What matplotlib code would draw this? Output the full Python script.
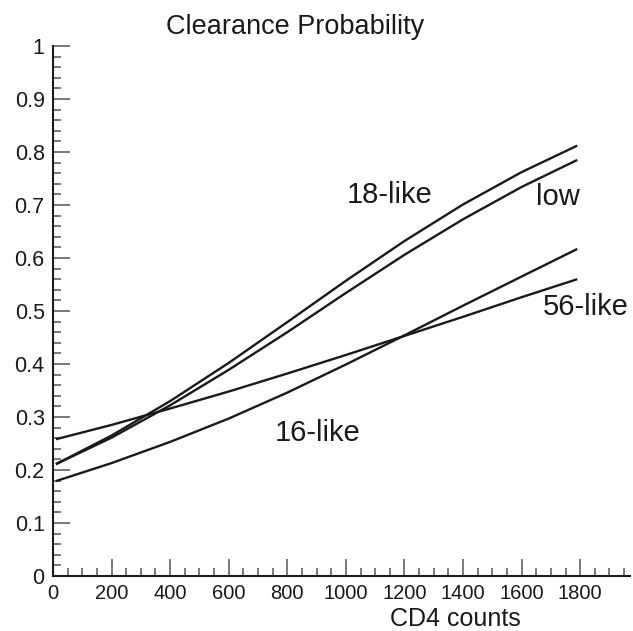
import numpy as np
import matplotlib
matplotlib.use("Agg")
import matplotlib.pyplot as plt
from matplotlib.ticker import MultipleLocator

plt.rcParams['font.family'] = ['Liberation Sans', 'DejaVu Sans']

# CD4 counts and clearance probability
cd4 = [10, 200, 400, 600, 800, 1000, 1200, 1400, 1600, 1790]
like18 = [0.211, 0.265, 0.330, 0.402, 0.479, 0.557, 0.632, 0.701, 0.762, 0.812]
low = [0.211, 0.261, 0.322, 0.389, 0.460, 0.534, 0.606, 0.673, 0.734, 0.785]
like16 = [0.179, 0.213, 0.253, 0.297, 0.346, 0.399, 0.454, 0.510, 0.565, 0.617]
like56 = [0.258, 0.285, 0.316, 0.348, 0.382, 0.417, 0.453, 0.489, 0.526, 0.560]

series = [like18, low, like16, like56]
labels = ["18-like", "low", "16-like", "56-like"]
label_pos = [(1150, 0.719), (1724, 0.716), (905, 0.270), (1819, 0.508)]

fig = plt.figure(figsize=(6.33, 6.31), dpi=100)
ax = fig.add_axes([0.0837, 0.0872, 0.9115, 0.8399])

for ys in series:
    ax.plot(cd4, ys, color='#1a1a1a', lw=1.7, solid_capstyle='butt')

for name, (tx, ty) in zip(labels, label_pos):
    ax.text(tx, ty, name, fontsize=21, color='#1a1a1a', ha='center', va='center')

ax.set_xlim(0, 1970)
ax.set_ylim(0, 1)

ax.spines['top'].set_visible(False)
ax.spines['right'].set_visible(False)
for s in ('left', 'bottom'):
    ax.spines[s].set_linewidth(1.5)
    ax.spines[s].set_color('#1a1a1a')

ax.xaxis.set_major_locator(MultipleLocator(200))
ax.xaxis.set_minor_locator(MultipleLocator(50))
ax.yaxis.set_major_locator(MultipleLocator(0.1))
ax.yaxis.set_minor_locator(MultipleLocator(0.02))
ax.xaxis.set_major_formatter(plt.FuncFormatter(lambda v, p: f"{v:g}" if v <= 1800 else ""))
ax.yaxis.set_major_formatter(plt.FuncFormatter(lambda v, p: f"{v:g}"))

ax.tick_params(axis='both', which='both', direction='in', labelcolor='#1a1a1a')
ax.tick_params(axis='y', labelsize=15.5)
ax.tick_params(axis='x', labelsize=14.5)
ax.tick_params(axis='both', which='major', length=12, width=1.1, color='#555555', pad=6)
ax.tick_params(axis='both', which='minor', length=6, width=1.1, color='#555555')

fig.text(295 / 633, 1 - 27 / 631, "Clearance Probability", fontsize=19.5,
         color='#1a1a1a', ha='center', va='center')
fig.text(455 / 633, 1 - 619 / 631, "CD4 counts", fontsize=18,
         color='#1a1a1a', ha='center', va='center')

fig.savefig("out.png", dpi=100)
